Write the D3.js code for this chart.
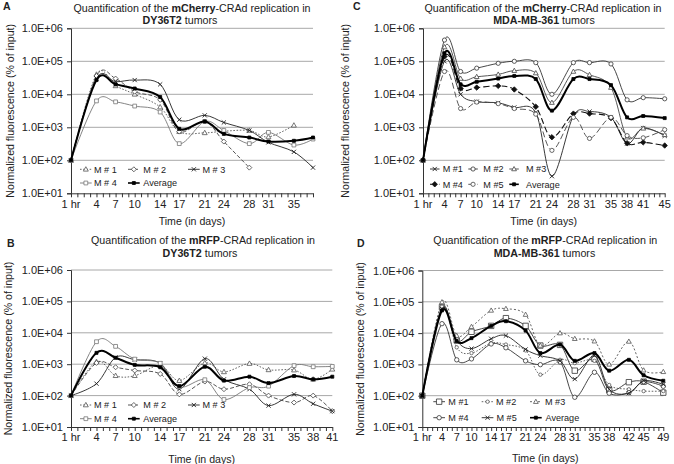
<!DOCTYPE html>
<html><head><meta charset="utf-8">
<script src="https://cdn.jsdelivr.net/npm/d3@7"></script>
<style>
body{margin:0;background:#fff}
svg{display:block}
text{font-family:"Liberation Sans",Arial,sans-serif;fill:#222}
</style>
</head><body>
<svg id="chart" width="674" height="464"></svg>
<script>
// ---------- data ----------
const Y_TICKS = [1e1, 1e2, 1e3, 1e4, 1e5, 1e6];
const Y_LABELS = ["1.0E+01", "1.0E+02", "1.0E+03", "1.0E+04", "1.0E+05", "1.0E+06"];

// Panel A: mCherry-CRAd, DY36T2
const DAYS_A = [0, 4, 7, 10, 14, 17, 21, 24, 28, 31, 35, 38];
const XLAB_A = [0, 4, 7, 10, 14, 17, 21, 24, 28, 31, 35];
const A_M1 = [100, 40000, 18000, 10000, 4100, 740, 680, 760, 800, 510, 1150, null];
const A_M2 = [100, 36000, 30000, 12000, 6800, 740, 1500, 370, 60, null, null, null];
const A_M3 = [100, 30000, 24000, 27000, 20000, 1700, 2300, 1400, 800, 350, 180, 60];
const A_M4 = [100, 6300, 5900, 4400, 2900, 320, 1500, 800, 320, 700, 290, 440];
const A_AVG = [100, 27000, 20000, 15000, 8300, 900, 1500, 630, 490, 370, 390, 490];

// Panel B: mRFP-CRAd, DY36T2
const DAYS_B = [0, 4, 7, 10, 14, 17, 21, 24, 28, 31, 35, 38, 41];
const XLAB_B = [0, 4, 7, 10, 14, 17, 21, 24, 28, 31, 35, 38, 41];
const B_M1 = [100, 1200, 430, 430, 900, 300, 1100, 570, 1050, 660, 650, 330, 690];
const B_M2 = [100, 1100, 800, 630, 490, 110, 280, 160, 230, 100, 60, 100, 32];
const B_M3 = [100, 240, 1650, 1400, 1070, 160, 1500, 330, 160, 48, 110, 55, 32];
const B_M4 = [100, 5200, 3700, 1450, 1070, 190, 320, 75, 180, 200, 900, 830, 850];
const B_AVG = [100, 2300, 1600, 950, 800, 200, 830, 300, 400, 250, 420, 330, 400];

// Panel C: mCherry-CRAd, MDA-MB-361
const DAYS_C = [0, 4, 7, 10, 14, 17, 21, 24, 28, 31, 35, 38, 41, 45];
const XLAB_C = [0, 4, 7, 10, 14, 17, 21, 24, 28, 31, 35, 38, 41, 45];
const C_M1 = [100, 100000, 10000, 6000, 5500, 4000, 2800, 33, 2200, 3000, 2000, 320, 950, 550];
const C_M2 = [100, 440000, 49000, 62000, 87000, 100000, 91000, 10000, 91000, 91000, 83000, 6800, 7900, 7300];
const C_M3 = [100, 270000, 30000, 34000, 40000, 52000, 44000, 5600, 49000, 39000, 16000, 500, 930, 590];
const C_M4 = [100, 140000, 15000, 16000, 18000, 14000, 4200, 500, 2600, 2600, 1900, 330, 350, 280];
const C_M5 = [100, 49000, 3700, 5800, 5200, 3700, 2500, 200, 2000, 460, 2000, 560, 480, 850];
const C_AVG = [100, 175000, 20000, 24000, 30000, 36000, 29000, 3200, 29000, 29000, 19000, 2000, 2200, 1900];

// Panel D: mRFP-CRAd, MDA-MB-361
const DAYS_D = [0, 4, 7, 10, 14, 17, 21, 24, 28, 31, 35, 38, 42, 45, 49];
const XLAB_D = [0, 4, 7, 10, 14, 17, 21, 24, 28, 31, 35, 38, 42, 45, 49];
const D_M1 = [100, 68000, 5800, 11000, 17000, 30000, 17000, 4000, 4200, 630, 1500, 150, 270, 280, 125];
const D_M2 = [100, 70000, 3500, 2300, 4800, 4300, 2800, 470, 1400, 1100, 1300, 220, 160, 140, 140];
const D_M3 = [100, 98000, 8300, 16000, 53000, 60000, 39000, 4000, 10000, 6600, 5500, 1000, 5400, 650, 580];
const D_M4 = [100, 20000, 1400, 1500, 4500, 3400, 1300, 980, 1200, 89, 560, 120, 125, 280, 200];
const D_M5 = [100, 60000, 5800, 3200, 6600, 8300, 3000, 1900, 1300, 340, 1900, 160, 120, 300, 230];
const D_AVG = [100, 53000, 5500, 6900, 17000, 24000, 12000, 2300, 4300, 1300, 2300, 630, 1400, 450, 300];

// ---------- drawing ----------
const svg = d3.select("#chart");
const FONT = '"Liberation Sans",Arial,sans-serif';
const F_TITLE = 10.7, F_TICK = 11, F_XT = 10.6, F_YT = 10.6, F_LEG = 9.1;

function markerPath(type, s) {
  switch (type) {
    case "tri": return `M0,${-s}L${s*0.95},${s*0.7}L${-s*0.95},${s*0.7}Z`;
    case "dia": return `M0,${-s}L${s},0L0,${s}L${-s},0Z`;
    case "sq": return `M${-s},${-s}H${s}V${s}H${-s}Z`;
    case "x": return `M${-s},${-s}L${s},${s}M${-s},${s}L${s},${-s}`;
    case "circ": return d3.symbol(d3.symbolCircle, Math.PI * s * s)();
  }
}

const S = {
  dotted: {color: "#555", width: 0.9, dash: "1.6,1.6"},
  dashed: {color: "#444", width: 0.9, dash: "4,2"},
  solidDark: {color: "#222", width: 0.9, dash: null},
  solidGray: {color: "#777", width: 0.9, dash: null},
  avg: {color: "#000", width: 2.0, dash: null}
};

function series(name, vals, style, marker, msize, fill) {
  return {name, vals, style, marker, msize, fill: fill || "#fff"};
}

const panels = [
  {
    letter: "A", lx: 3, ly: 10,
    t1: ["Quantification of the ", "mCherry", "-CRAd replication in"], t2: ["DY36T2", " tumors"],
    t1x: 192, t1y: 11.6, t2x: 180, t2y: 24.1,
    x0: 71, x1: 313, yTop: 28.3, yBot: 193.3, maxDay: 38, days: DAYS_A, xlab: XLAB_A,
    ytx: 10, yty: 110.8, xtx: 192, xty: 224.6, xlabY: 208,
    series: [
      series("M # 1", A_M1, S.dotted, "tri", 2.6),
      series("M # 2", A_M2, S.dashed, "dia", 2.5),
      series("M # 3", A_M3, S.solidDark, "x", 2.1),
      series("M # 4", A_M4, S.solidGray, "sq", 1.9),
      series("Average", A_AVG, S.avg, "sq", 1.5, "#000")
    ],
    legend: {rows: [169.3, 183], sw: 11.7,
      items: [[80, 0, 94], [128, 0, 143.3], [188, 0, 202.5], [80, 1, 94], [128, 1, 143.3]]}
  },
  {
    letter: "B", lx: 7, ly: 247,
    t1: ["Quantification of the ", "mRFP", "-CRAd replication in"], t2: ["DY36T2", " tumors"],
    t1x: 203, t1y: 244.1, t2x: 200, t2y: 256.6,
    x0: 71, x1: 332.3, yTop: 270, yBot: 427, maxDay: 41, days: DAYS_B, xlab: XLAB_B,
    ytx: 8.5, yty: 348.5, xtx: 201.7, xty: 462.5, xlabY: 440.5,
    series: [
      series("M # 1", B_M1, S.dotted, "tri", 2.6),
      series("M # 2", B_M2, S.dashed, "dia", 2.5),
      series("M # 3", B_M3, S.solidDark, "x", 2.1),
      series("M # 4", B_M4, S.solidGray, "sq", 1.9),
      series("Average", B_AVG, S.avg, "sq", 1.5, "#000")
    ],
    legend: {rows: [405, 418.7], sw: 11.7,
      items: [[80, 0, 94], [128, 0, 143.3], [188, 0, 202.5], [80, 1, 94], [128, 1, 143.3]]}
  },
  {
    letter: "C", lx: 353, ly: 10,
    t1: ["Quantification of the ", "mCherry", "-CRAd replication in"], t2: ["MDA-MB-361", " tumors"],
    t1x: 543, t1y: 11.6, t2x: 544, t2y: 24.1,
    x0: 423, x1: 664.7, yTop: 28.3, yBot: 193.3, maxDay: 45, days: DAYS_C, xlab: XLAB_C,
    ytx: 345, yty: 110.8, xtx: 543.7, xty: 224.6, xlabY: 207.6,
    series: [
      series("M #1", C_M1, S.solidDark, "x", 2.1),
      series("M #2", C_M2, {color: "#333", width: 0.9, dash: null}, "circ", 2.1),
      series("M #3", C_M3, {color: "#444", width: 0.9, dash: null}, "tri", 2.5),
      series("M #4", C_M4, {color: "#111", width: 1.1, dash: "6,3"}, "dia", 2.7, "#111"),
      series("M #5", C_M5, {color: "#444", width: 0.9, dash: "6,3"}, "circ", 2.1),
      series("Average", C_AVG, S.avg, "sq", 1.5, "#000")
    ],
    legend: {rows: [169, 184.3], sw: 9.5,
      items: [[430, 0, 442.7], [468.3, 0, 483.3], [509.3, 0, 526], [430, 1, 442.7], [468.3, 1, 483.3], [509.3, 1, 526]]}
  },
  {
    letter: "D", lx: 357, ly: 247,
    t1: ["Quantification of the ", "mRFP", "-CRAd replication in"], t2: ["MDA-MB-361", " tumors"],
    t1x: 545.3, t1y: 244.1, t2x: 544.5, t2y: 256.6,
    x0: 422.3, x1: 663.3, yTop: 270.5, yBot: 427, maxDay: 49, days: DAYS_D, xlab: XLAB_D,
    ytx: 360, yty: 349, xtx: 545.3, xty: 462, xlabY: 440.5,
    series: [
      series("M #1", D_M1, {color: "#333", width: 0.9, dash: null}, "sq", 2.7),
      series("M #2", D_M2, {color: "#555", width: 0.9, dash: "1.6,1.6"}, "circ", 1.7),
      series("M #3", D_M3, {color: "#555", width: 0.9, dash: "2,2"}, "tri", 2.5),
      series("M #4", D_M4, {color: "#333", width: 0.9, dash: null}, "circ", 2.2),
      series("M #5", D_M5, S.solidDark, "x", 2.1),
      series("Average", D_AVG, S.avg, "sq", 1.5, "#000")
    ],
    legend: {rows: [401.7, 417.7], sw: 11.7,
      items: [[433.3, 0, 448.3], [481.7, 0, 496], [530, 0, 545], [433.3, 1, 448.3], [481.7, 1, 496.5], [530, 1, 545.5]]}
  }
];

function drawMarker(g, type, size, x, y, st, fill) {
  g.append("path").attr("d", markerPath(type, size))
    .attr("transform", `translate(${x},${y})`)
    .attr("fill", type === "x" ? "none" : fill)
    .attr("stroke", st.color)
    .attr("stroke-width", type === "x" ? 0.9 : 0.8);
}

panels.forEach(p => {
  const g = svg.append("g");
  const x = d3.scaleLinear().domain([0, p.maxDay]).range([p.x0, p.x1]);
  const y = d3.scaleLog().domain([10, 1e6]).range([p.yBot, p.yTop]);

  // panel letter
  g.append("text").attr("x", p.lx).attr("y", p.ly).attr("font-size", 10.5)
    .attr("font-weight", "bold").text(p.letter);

  // titles
  const t1 = g.append("text").attr("x", p.t1x).attr("y", p.t1y)
    .attr("text-anchor", "middle").attr("font-size", F_TITLE);
  p.t1.forEach((s, i) => t1.append("tspan").attr("font-weight", i === 1 ? "bold" : "normal").text(s));
  const t2 = g.append("text").attr("x", p.t2x).attr("y", p.t2y)
    .attr("text-anchor", "middle").attr("font-size", F_TITLE);
  p.t2.forEach((s, i) => t2.append("tspan").attr("font-weight", i === 0 ? "bold" : "normal").text(s));

  // gridlines
  g.append("g").selectAll("line").data(Y_TICKS.slice(1)).join("line")
    .attr("x1", p.x0).attr("x2", p.x1)
    .attr("y1", d => y(d)).attr("y2", d => y(d))
    .attr("stroke", "#a8a8a8").attr("stroke-width", 1);

  // y axis
  const yAxis = d3.axisLeft(y).tickValues(Y_TICKS)
    .tickFormat((d, i) => Y_LABELS[i]).tickSize(4).tickPadding(4);
  const ya = g.append("g").attr("transform", `translate(${p.x0},0)`).call(yAxis);
  ya.select(".domain").attr("stroke", "#333");
  ya.selectAll(".tick line").attr("stroke", "#333");
  ya.selectAll("text").attr("font-size", F_TICK).attr("font-family", FONT).attr("fill", "#222");

  // x axis: ticks each day
  const xAxis = d3.axisBottom(x).tickValues(d3.range(0, p.maxDay + 1)).tickFormat("").tickSize(4).tickSizeOuter(0);
  const xa = g.append("g").attr("transform", `translate(0,${p.yBot})`).call(xAxis);
  xa.select(".domain").attr("stroke", "#333");
  xa.selectAll(".tick line").attr("stroke", "#333");
  g.append("g").selectAll("text").data(p.xlab).join("text")
    .attr("x", d => x(d)).attr("y", p.xlabY).attr("text-anchor", "middle")
    .attr("font-size", F_TICK).text(d => d === 0 ? "1 hr" : d);

  // axis titles
  g.append("text").attr("transform", `translate(${p.ytx + 3.7},${p.yty}) rotate(-90)`)
    .attr("text-anchor", "middle").attr("font-size", F_YT)
    .text("Normalized fluorescence (% of input)");
  g.append("text").attr("x", p.xtx).attr("y", p.xty).attr("text-anchor", "middle")
    .attr("font-size", F_XT).text("Time (in days)");

  // series
  const line = d3.line().defined(d => d.v != null)
    .x(d => x(d.d)).y(d => y(d.v)).curve(d3.curveCatmullRom.alpha(0));
  p.series.forEach(s => {
    const pts = p.days.map((d, i) => ({d, v: s.vals[i]})).filter(q => q.v != null);
    g.append("path").datum(pts).attr("d", line)
      .attr("fill", "none").attr("stroke", s.style.color)
      .attr("stroke-width", s.style.width)
      .attr("stroke-dasharray", s.style.dash)
      .attr("stroke-linejoin", "round");
    const mg = g.append("g");
    pts.forEach(q => drawMarker(mg, s.marker, s.msize, x(q.d), y(q.v), s.style, s.fill));
  });

  // legend
  const lg = g.append("g");
  p.series.forEach((s, i) => {
    const [lx, row, tx] = p.legend.items[i];
    const ly = p.legend.rows[row];
    const sw = p.legend.sw;
    lg.append("line").attr("x1", lx).attr("x2", lx + sw).attr("y1", ly).attr("y2", ly)
      .attr("stroke", s.style.color).attr("stroke-width", Math.min(s.style.width, 1.6))
      .attr("stroke-dasharray", s.style.dash);
    drawMarker(lg, s.marker, s.msize, lx + sw / 2, ly, s.style, s.fill);
    lg.append("text").attr("x", tx).attr("y", ly + 3.3)
      .attr("font-size", F_LEG).text(s.name);
  });
});
</script>
</body></html>
